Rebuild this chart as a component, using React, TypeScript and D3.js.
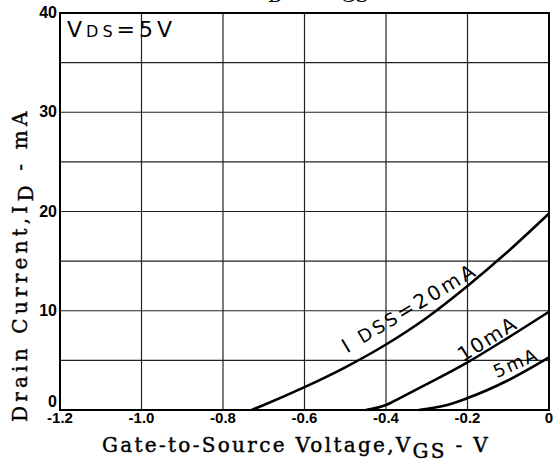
import React, { useEffect, useRef } from "react";
import * as d3 from "d3";

// I_D - V_GS transfer curves, VDS = 5V
const xTicks = [-1.2, -1.0, -0.8, -0.6, -0.4, -0.2, 0];
const xTickLabels = ["-1.2", "-1.0", "-0.8", "-0.6", "-0.4", "-0.2", "0"];
const yGrid = [0, 5, 10, 15, 20, 25, 30, 35, 40];
const yTickLabels = ["0", "10", "20", "30", "40"];

const vgs20 = [-0.73, -0.7, -0.6, -0.5, -0.4, -0.3, -0.2, -0.1, 0];
const id20 = [0, 0.5, 2.3, 4.3, 6.6, 9.3, 12.5, 16.0, 19.8];
const vgs10 = [-0.45, -0.4, -0.366, -0.3, -0.2, -0.1, 0];
const id10 = [0, 0.5, 1.2, 2.6, 4.8, 7.3, 9.9];
const vgs5 = [-0.32, -0.25, -0.2, -0.1, 0];
const id5 = [0, 0.5, 1.2, 3.0, 5.3];

const serif = "'DejaVu Serif', 'Liberation Serif', serif";
const narrow = "'Liberation Sans Narrow', 'Liberation Sans', sans-serif";
const stencil = "'DejaVu Sans', sans-serif";

function zip(xs: number[], ys: number[]) {
  return xs.map((v, i) => [v, ys[i]] as [number, number]);
}

function draw(node: SVGSVGElement) {
  const svg = d3.select(node);
  svg.selectAll("*").remove();

  const x = d3.scaleLinear().domain([-1.2, 0]).range([60, 549]);
  const y = d3.scaleLinear().domain([0, 40]).range([410, 13]);

  // grid
  svg.append("g")
    .selectAll("line")
    .data(xTicks)
    .enter().append("line")
    .attr("x1", d => x(d)).attr("x2", d => x(d))
    .attr("y1", y(0)).attr("y2", y(40))
    .attr("stroke", "#222").attr("stroke-width", 1.2);

  svg.append("g")
    .selectAll("line")
    .data(yGrid)
    .enter().append("line")
    .attr("x1", x(-1.2)).attr("x2", x(0))
    .attr("y1", d => y(d)).attr("y2", d => y(d))
    .attr("stroke", "#222").attr("stroke-width", 1.2);

  // frame
  svg.append("rect")
    .attr("x", x(-1.2)).attr("y", y(40))
    .attr("width", x(0) - x(-1.2)).attr("height", y(0) - y(40))
    .attr("fill", "none").attr("stroke", "#000").attr("stroke-width", 2);

  // tick labels
  svg.append("g")
    .selectAll("text")
    .data(xTicks)
    .enter().append("text")
    .attr("x", d => x(d)).attr("y", 423)
    .attr("text-anchor", "middle")
    .style("font-family", narrow).style("font-weight", "bold").style("font-size", "15px")
    .text((d, i) => xTickLabels[i]);

  svg.append("g")
    .selectAll("text")
    .data(yTickLabels)
    .enter().append("text")
    .attr("x", 57).attr("y", d => (+d === 0 ? y(0) - 3 : y(+d) + 5))
    .attr("text-anchor", "end")
    .style("font-family", narrow).style("font-weight", "bold").style("font-size", "16px")
    .text(d => d);

  // curves
  const line = d3.line<[number, number]>()
    .x(d => x(d[0])).y(d => y(d[1]))
    .curve(d3.curveMonotoneX);
  [zip(vgs20, id20), zip(vgs10, id10), zip(vgs5, id5)].forEach(pts => {
    svg.append("path")
      .attr("d", line(pts))
      .attr("fill", "none").attr("stroke", "#000").attr("stroke-width", 2.6);
  });

  // curve labels, sitting just above their curves
  const lbl = (vx: number, iy: number, ang: number, fs: number, ls: number) =>
    svg.append("text")
      .attr("transform", `translate(${x(vx)},${y(iy)}) rotate(${-ang})`)
      .style("font-family", stencil).style("font-weight", "normal")
      .style("font-size", `${fs}px`).style("letter-spacing", `${ls}px`);

  const t20 = lbl(-0.496, 5.7, 31, 20, 3);
  t20.append("tspan").text("I ");
  t20.append("tspan").style("font-size", "18px").text("DSS");
  t20.append("tspan").text("=20mA");
  lbl(-0.211, 4.8, 32, 20, 2).text("10mA");
  lbl(-0.128, 3.2, 24, 18, 2).text("5mA");

  // VDS annotation
  const v = svg.append("text").attr("x", 67).attr("y", 37)
    .style("font-family", stencil).style("font-weight", "normal")
    .style("font-size", "22px").style("letter-spacing", "4px");
  v.append("tspan").text("V");
  v.append("tspan").style("font-size", "16px").text("DS");
  v.append("tspan").text("=5V");

  // axis titles
  const xt = svg.append("text").attr("x", 102).attr("y", 452)
    .style("font-family", serif).style("font-size", "20px")
    .style("letter-spacing", "2.3px").attr("fill", "#000")
    .attr("stroke", "#000").attr("stroke-width", 0.4);
  xt.append("tspan").text("Gate-to-Source Voltage,V");
  xt.append("tspan").attr("dy", 6).text("GS");
  xt.append("tspan").attr("dy", -6).text(" - V");

  const yt = svg.append("text")
    .attr("transform", "translate(27,422) rotate(-90)")
    .style("font-family", serif).style("font-size", "20px")
    .style("letter-spacing", "4.2px").attr("fill", "#000")
    .attr("stroke", "#000").attr("stroke-width", 0.4);
  yt.append("tspan").text("Drain Current,I");
  yt.append("tspan").attr("dy", 6).text("D");
  yt.append("tspan").attr("dy", -6).text(" - mA");

  // title clipped by the top edge
  const tt = svg.append("text").attr("x", 250).attr("y", -6)
    .style("font-family", serif).style("font-size", "19px");
  tt.append("tspan").text("I");
  tt.append("tspan").attr("x", 268).attr("dy", 8).text("D");
  tt.append("tspan").attr("x", 300).attr("dy", -8).text("- V");
  tt.append("tspan").attr("x", 340).attr("dy", 8).text("GS");
}

export default function App() {
  const ref = useRef<SVGSVGElement>(null);
  useEffect(() => {
    if (ref.current) draw(ref.current);
  }, []);
  return (
    <svg ref={ref} width={554} height={464}
      style={{ position: "absolute", left: 0, top: 0, background: "#fff" }} />
  );
}
